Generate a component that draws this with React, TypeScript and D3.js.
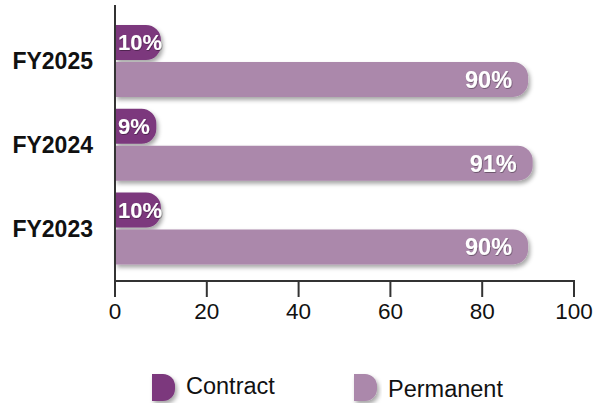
import React from "react";
import * as d3 from "d3";

const years = ["FY2025", "FY2024", "FY2023"];
const seriesNames = ["Contract", "Permanent"];
const contract = [10, 9, 10];
const permanent = [90, 91, 90];
const xTicks = [0, 20, 40, 60, 80, 100];
const colors = ["#7b397d", "#ab88ab"];

const W = 597;
const H = 403;
const FONT = "'Liberation Sans', Arial, Helvetica, sans-serif";

function barPath(x0: number, x1: number, y: number, h: number, r: number) {
  const rr = Math.min(r, h / 2, (x1 - x0));
  const p = d3.path();
  p.moveTo(x0, y);
  p.lineTo(x1 - rr, y);
  p.arcTo(x1, y, x1, y + rr, rr);
  p.lineTo(x1, y + h - rr);
  p.arcTo(x1, y + h, x1 - rr, y + h, rr);
  p.lineTo(x0, y + h);
  p.closePath();
  return p.toString();
}

export default function App() {
  const x = d3.scaleLinear().domain([0, 100]).range([115, 574]);
  const yOuter = d3.scaleBand<string>().domain(years).range([19.1, 270.35]).padding(0);
  const yInner = d3.scaleBand<string>().domain(seriesNames).range([-36, 36]).paddingInner(0.05);
  const values = [contract, permanent];
  const axisY = 281;

  return (
    <svg width={W} height={H} style={{ position: "absolute", left: 0, top: 0 }} fontFamily={FONT}>
      <defs>
        <filter id="sh" x="-10%" y="-30%" width="130%" height="180%">
          <feDropShadow dx="2" dy="3" stdDeviation="2" floodColor="#000" floodOpacity="0.35" />
        </filter>
        <filter id="tsh" x="-20%" y="-30%" width="140%" height="160%">
          <feDropShadow dx="0.6" dy="0.8" stdDeviation="0.6" floodColor="#000" floodOpacity="0.45" />
        </filter>
      </defs>

      {years.map((yr, i) => {
        const c = (yOuter(yr) as number) + yOuter.bandwidth() / 2;
        return (
          <g key={yr}>
            {seriesNames.map((s, si) => {
              const v = values[si][i];
              const yy = c + (yInner(s) as number);
              const h = yInner.bandwidth();
              const x1 = x(v);
              return (
                <g key={s}>
                  <path d={barPath(x(0), x1, yy, h, 15)} fill={colors[si]} filter="url(#sh)" />
                  <text
                    x={si === 0 ? x(0) + 3 : x1 - 16}
                    y={yy + h / 2}
                    dy="0.36em"
                    textAnchor={si === 0 ? "start" : "end"}
                    fill="#fff"
                    fontWeight="bold"
                    fontSize={si === 0 ? 22 : 23.5}
                    filter="url(#tsh)"
                  >
                    {v}%
                  </text>
                </g>
              );
            })}
            <text x={93} y={c} dy="0.36em" textAnchor="end" fontWeight="bold" fontSize={23} fill="#111">
              {yr}
            </text>
          </g>
        );
      })}

      <line x1={x(0)} x2={x(0)} y1={5} y2={axisY} stroke="#333" strokeWidth={2} />
      <line x1={x(0) - 1} x2={x(100) + 1} y1={axisY} y2={axisY} stroke="#333" strokeWidth={2} />
      {xTicks.map((t) => (
        <g key={t}>
          <line x1={x(t)} x2={x(t)} y1={axisY} y2={297} stroke="#333" strokeWidth={2} />
          <text x={x(t)} y={318.5} textAnchor="middle" fontSize={22.5} fill="#111">
            {t}
          </text>
        </g>
      ))}

      {seriesNames.map((s, si) => {
        const lx = si === 0 ? 152 : 354;
        const ty = si === 0 ? 394 : 397;
        return (
          <g key={s}>
            <path d={barPath(lx, lx + 23, 374, 27, 12)} fill={colors[si]} filter="url(#sh)" />
            <text x={lx + 34} y={ty} fontSize={23.5} fill="#111">
              {s}
            </text>
          </g>
        );
      })}
    </svg>
  );
}
